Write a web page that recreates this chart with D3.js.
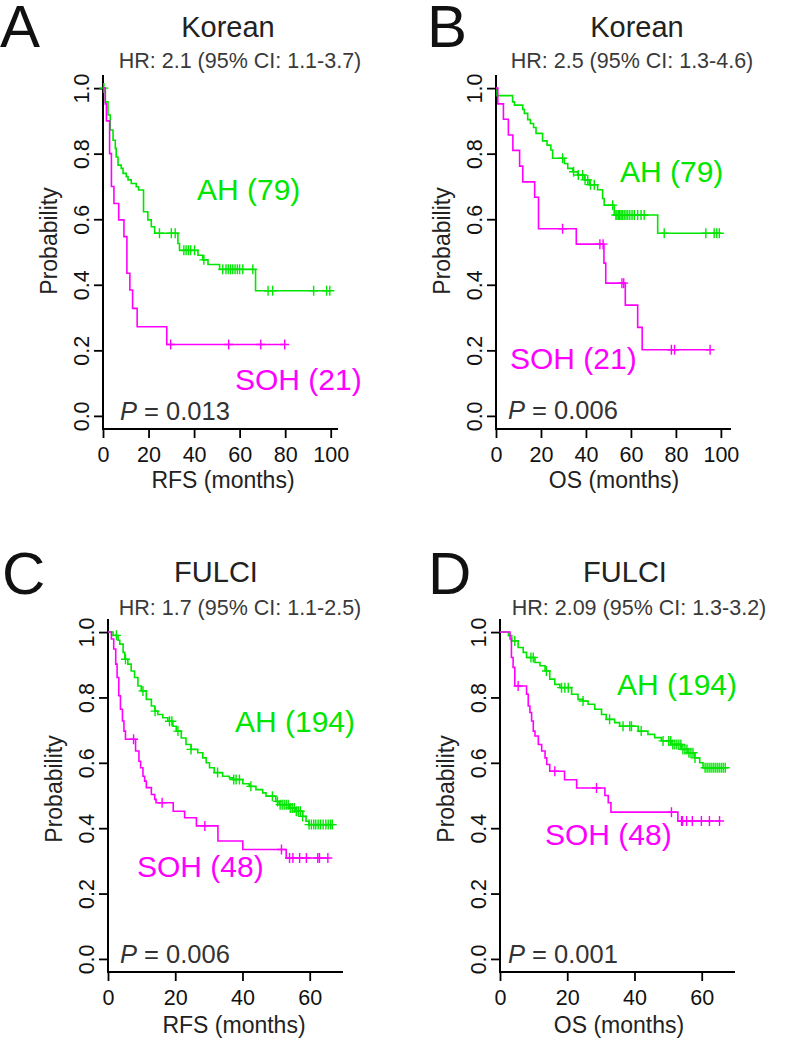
<!DOCTYPE html>
<html>
<head>
<meta charset="utf-8">
<script src="https://cdn.jsdelivr.net/npm/d3@7"></script>
<style>
  body { margin: 0; background: #fff; }
  svg { display: block; }
  text { font-family: "Liberation Sans", Arial, Helvetica, sans-serif; }
</style>
</head>
<body>
<div id="chart"></div>
<script>
// ---- data ----
const panelLetters = ["A", "B", "C", "D"];
const cohortNames = ["Korean", "Korean", "FULCI", "FULCI"];
const hrLabels = ["HR: 2.1 (95% CI: 1.1-3.7)", "HR: 2.5 (95% CI: 1.3-4.6)",
                  "HR: 1.7 (95% CI: 1.1-2.5)", "HR: 2.09 (95% CI: 1.3-3.2)"];
const xTitles = ["RFS (months)", "OS (months)", "RFS (months)", "OS (months)"];
const pValues = ["0.013", "0.006", "0.006", "0.001"];
const ahN = [79, 79, 194, 194];
const sohN = [21, 21, 48, 48];
const yTicks = [0, 0.2, 0.4, 0.6, 0.8, 1.0];
const xTicksKorean = [0, 20, 40, 60, 80, 100];
const xTicksFulci = [0, 20, 40, 60];

// steps: [time, survival after the drop]; censor: times of "+" marks
const ahStepsA = [[1.0,0.958],[2.2,0.918],[3.2,0.872],[4.4,0.841],[5.4,0.816],[5.8,0.79],[6.6,0.765],[8.0,0.755],[8.8,0.74],[10.2,0.73],[11.0,0.72],[12.4,0.709],[14.6,0.699],[15.6,0.689],[17.8,0.623],[19.7,0.598],[21.2,0.577],[22.7,0.557],[32.9,0.526],[33.6,0.505],[41.7,0.49],[43.8,0.476],[46.1,0.462],[51.2,0.447],[67.0,0.382]];
const ahCensorA = [0.4,24.8,30.0,31.7,35.5,36.5,37.5,38.5,40.2,44.3,52.6,54,55,56,57,58,59,60,61.4,65.8,72.5,74.5,92.5,98.2,99.6];
const sohStepsA = [[1.0,0.952],[1.5,0.9],[2.9,0.8],[3.7,0.7],[4.8,0.648],[6.9,0.598],[9.2,0.547],[10.5,0.435],[11.8,0.384],[13.0,0.328],[15.0,0.272],[28.0,0.218]];
const sohCensorA = [29.7,55.2,69.3,79.8];

const ahStepsB = [[0.5,0.977],[7.4,0.958],[8.2,0.948],[11.9,0.935],[12.6,0.923],[14.1,0.904],[15.3,0.892],[16.7,0.88],[17.8,0.862],[20.7,0.839],[22.7,0.826],[24.4,0.811],[25.2,0.786],[30.4,0.77],[31.9,0.755],[34.1,0.745],[36.3,0.735],[39.3,0.72],[41.5,0.705],[45.2,0.69],[47.4,0.663],[48.1,0.643],[52.6,0.613],[71.9,0.557]];
const ahCensorB = [29.6,34.5,36.6,38.5,39.6,40.8,42,43.7,51.9,53.3,53.8,54.4,55,55.6,56.2,57,57.8,58.6,59.5,60.5,61.5,63,64.5,65.9,74.8,93.3,97.0,98.2,99.3];
const sohStepsB = [[0.8,0.952],[3.3,0.905],[5.5,0.857],[7.5,0.81],[10.5,0.762],[11.9,0.714],[17.2,0.667],[18.9,0.571],[35.7,0.524],[48.0,0.466],[48.8,0.405],[57.5,0.338],[63.0,0.27],[65.0,0.202]];
const sohCensorB = [29.6,46.2,47.6,56.0,56.8,78.0,79.4,95.2];

const ahStepsC = [[1.5,0.99],[3.0,0.975],[3.5,0.963],[4.5,0.938],[5.0,0.917],[5.9,0.902],[6.9,0.881],[7.9,0.861],[8.9,0.835],[9.9,0.82],[11.4,0.794],[12.9,0.774],[13.9,0.758],[14.8,0.748],[16.3,0.738],[17.8,0.727],[19.3,0.712],[20.3,0.697],[21.8,0.676],[23.2,0.656],[24.7,0.641],[26.7,0.631],[28.2,0.615],[29.2,0.6],[30.2,0.585],[31.6,0.57],[34.1,0.559],[36.1,0.554],[37.1,0.549],[40.1,0.536],[42.0,0.528],[44.0,0.518],[46.0,0.508],[47.0,0.498],[49.9,0.482],[50.9,0.472],[53.9,0.462],[55.9,0.452],[57.9,0.436],[58.9,0.421],[59.8,0.411]];
const ahCensorC = [2.5,5.2,10.4,14.0,18.3,19.0,20.8,24.7,32.6,37.4,38.1,39.1,42.5,48.9,50.4,51.2,51.8,52.4,53,53.6,54.2,54.8,55.4,56,56.6,57.2,57.9,59.8,60.5,61.2,61.8,62.5,63.2,64,64.8,65.5,66.2,66.7];
const sohStepsC = [[1.0,0.979],[1.7,0.948],[2.3,0.902],[2.7,0.861],[3.2,0.805],[3.7,0.764],[4.3,0.728],[4.75,0.697],[5.2,0.672],[8.2,0.636],[9.2,0.605],[9.7,0.585],[10.4,0.559],[10.9,0.544],[11.4,0.524],[12.9,0.503],[13.9,0.488],[14.3,0.478],[19.4,0.452],[22.8,0.432],[26.3,0.407],[32.7,0.361],[40.1,0.335],[53.0,0.309]];
const sohCensorC = [7.6,16.1,28.8,51.6,54.0,55.0,57.0,59.0,62.4,62.9,65.4];

const ahStepsD = [[2.5,0.989],[3.5,0.973],[5.4,0.953],[6.9,0.938],[7.9,0.922],[10.4,0.907],[11.9,0.897],[13.4,0.881],[14.8,0.856],[16.3,0.84],[17.8,0.83],[21.3,0.81],[23.2,0.794],[24.7,0.789],[26.2,0.779],[28.2,0.764],[30.2,0.748],[31.6,0.733],[34.1,0.723],[35.6,0.712],[41.1,0.697],[44.0,0.687],[46.0,0.677],[48.0,0.667],[50.9,0.656],[53.9,0.641],[55.9,0.631],[57.9,0.615],[59.4,0.6],[60.4,0.585]];
const ahCensorD = [4.4,9.2,9.9,13.8,18.3,19.3,20.3,24.7,32.6,36.6,38.6,39.1,42.0,48.5,50.2,50.8,51.4,52,52.6,53.2,53.8,54.4,55,55.6,56.2,56.8,57.4,58,61,61.6,62.2,62.8,63.4,64,64.6,65.2,65.8,66.4,67.0];
const sohStepsD = [[3.0,0.979],[3.4,0.922],[3.9,0.892],[4.4,0.835],[7.9,0.81],[8.4,0.774],[8.9,0.754],[9.4,0.728],[9.9,0.697],[10.4,0.682],[11.4,0.656],[12.4,0.636],[13.4,0.615],[13.9,0.595],[14.8,0.574],[19.2,0.548],[22.8,0.523],[31.2,0.5],[32.2,0.478],[33.0,0.449],[52.9,0.422]];
const sohCensorD = [5.4,16.3,28.7,51.0,54.0,54.3,55.5,57.2,59.9,62.3,65.3];

const ahSteps = [ahStepsA, ahStepsB, ahStepsC, ahStepsD];
const ahCensor = [ahCensorA, ahCensorB, ahCensorC, ahCensorD];
const sohSteps = [sohStepsA, sohStepsB, sohStepsC, sohStepsD];
const sohCensor = [sohCensorA, sohCensorB, sohCensorC, sohCensorD];
const xTicks = [xTicksKorean, xTicksKorean, xTicksFulci, xTicksFulci];

// ---- layout (pixel positions of each panel) ----
const layout = [
  { left: 103, right: 338, top: 75,  bottom: 429, xmax: 103.2, letter: [0, 47],    title: [228, 37],  hr: [240, 68],  ah: [197, 200], soh: [235, 390], p: [120, 420], xlab: [223, 488],  ylabY: 241 },
  { left: 496, right: 731, top: 75,  bottom: 429, xmax: 104.5, letter: [427, 47],  title: [637, 37],  hr: [632, 68],  ah: [620, 182], soh: [510, 369], p: [508, 419], xlab: [614, 488],  ylabY: 241 },
  { left: 108, right: 343, top: 619, bottom: 972, xmax: 69.9,  letter: [2, 594],   title: [216, 582], hr: [240, 615], ah: [235, 732], soh: [137, 877], p: [120, 963], xlab: [234, 1033], ylabY: 789 },
  { left: 500, right: 735, top: 619, bottom: 972, xmax: 69.9,  letter: [428, 594], title: [625, 582], hr: [639, 615], ah: [617, 695], soh: [545, 845], p: [508, 963], xlab: [619, 1033], ylabY: 789 }
];

const green = "#00e600";
const magenta = "#ff00ff";

const svg = d3.select("#chart").append("svg")
  .attr("width", 800)
  .attr("height", 1038);

function survAt(steps, t) {
  let s = 1;
  steps.forEach(d => { if (d[0] <= t) s = d[1]; });
  return s;
}

function drawCurve(g, x, y, steps, censor, color) {
  const end = Math.max(d3.max(censor), d3.max(steps, d => d[0]));
  const pts = [[0, 1]].concat(steps);
  pts.push([end, survAt(steps, end)]);
  const line = d3.line().x(d => x(d[0])).y(d => y(d[1])).curve(d3.curveStepAfter);
  g.append("path")
    .attr("d", line(pts))
    .attr("fill", "none")
    .attr("stroke", color)
    .attr("stroke-width", 1.6);
  g.selectAll(null)
    .data(censor)
    .enter()
    .append("path")
    .attr("transform", t => `translate(${x(t)},${y(survAt(steps, t))})`)
    .attr("d", "M-4.5,0H4.5M0,-5V5")
    .attr("stroke", color)
    .attr("stroke-width", 1.4);
}

layout.forEach((L, i) => {
  const g = svg.append("g");
  const x = d3.scaleLinear().domain([0, L.xmax]).range([L.left, L.right]);
  const y = d3.scaleLinear().domain([-0.04, 1.04]).range([L.bottom, L.top]);

  // y axis
  const ya = g.append("g")
    .attr("transform", `translate(${L.left},0)`)
    .call(d3.axisLeft(y).tickValues(yTicks).tickSize(9).tickFormat(d3.format(".1f")));
  ya.select(".domain").remove();
  ya.selectAll(".tick line").attr("stroke", "#000").attr("stroke-width", 1.8);
  ya.selectAll(".tick text")
    .attr("x", 0).attr("y", 0).attr("dy", null)
    .attr("text-anchor", "middle")
    .attr("transform", "translate(-13.8,0) rotate(-90)")
    .attr("font-size", 21.5)
    .attr("fill", "#111");

  // x axis
  const xa = g.append("g")
    .attr("transform", `translate(0,${L.bottom})`)
    .call(d3.axisBottom(x).tickValues(xTicks[i]).tickSize(9));
  xa.select(".domain").remove();
  xa.selectAll(".tick line").attr("stroke", "#000").attr("stroke-width", 1.8);
  xa.selectAll(".tick text")
    .attr("y", 33).attr("dy", null)
    .attr("font-size", 21.5)
    .attr("fill", "#111");
  ya.attr("font-family", null);
  xa.attr("font-family", null);

  // L-shaped frame
  g.append("path")
    .attr("d", `M${L.left},${L.top}V${L.bottom}H${L.right}`)
    .attr("fill", "none")
    .attr("stroke", "#000")
    .attr("stroke-width", 2);

  drawCurve(g, x, y, ahSteps[i], ahCensor[i], green);
  drawCurve(g, x, y, sohSteps[i], sohCensor[i], magenta);

  // texts
  g.append("text").attr("x", L.letter[0]).attr("y", L.letter[1])
    .attr("font-size", 60).attr("fill", "#111").text(panelLetters[i]);
  g.append("text").attr("x", L.title[0]).attr("y", L.title[1])
    .attr("text-anchor", "middle").attr("font-size", 29).attr("fill", "#222").text(cohortNames[i]);
  g.append("text").attr("x", L.hr[0]).attr("y", L.hr[1])
    .attr("text-anchor", "middle").attr("font-size", 21.5).attr("fill", "#3a3a3a").text(hrLabels[i]);
  g.append("text").attr("x", L.ah[0]).attr("y", L.ah[1])
    .attr("font-size", 30).attr("fill", green).text(`AH (${ahN[i]})`);
  g.append("text").attr("x", L.soh[0]).attr("y", L.soh[1])
    .attr("font-size", 30).attr("fill", magenta).text(`SOH (${sohN[i]})`);
  const pt = g.append("text").attr("x", L.p[0]).attr("y", L.p[1])
    .attr("font-size", 25.5).attr("fill", "#333");
  pt.append("tspan").attr("font-style", "italic").text("P");
  pt.append("tspan").text(` = ${pValues[i]}`);
  g.append("text").attr("x", L.xlab[0]).attr("y", L.xlab[1])
    .attr("text-anchor", "middle").attr("font-size", 23).attr("fill", "#222").text(xTitles[i]);
  g.append("text")
    .attr("transform", `translate(${L.left - 46},${L.ylabY}) rotate(-90)`)
    .attr("text-anchor", "middle").attr("font-size", 23).attr("fill", "#222").text("Probability");
});
</script>
</body>
</html>
